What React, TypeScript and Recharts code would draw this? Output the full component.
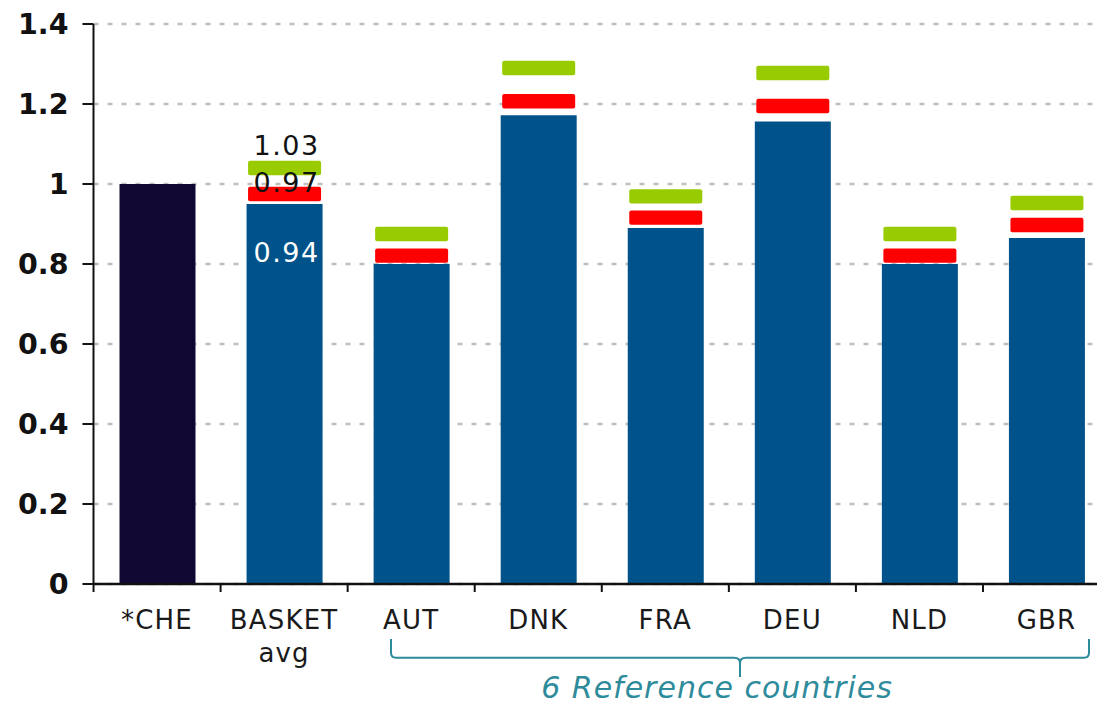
import React from "react";
import { BarChart, Bar, XAxis, YAxis, CartesianGrid, Cell, LabelList } from "recharts";

const categories = ["*CHE", "BASKET\navg", "AUT", "DNK", "FRA", "DEU", "NLD", "GBR"];
const indexValues = [1.0, 0.95, 0.8, 1.172, 0.89, 1.156, 0.8, 0.865];
const redValues = [null, 0.975, 0.821, 1.207, 0.916, 1.195, 0.821, 0.8975];
const greenValues = [null, 1.04, 0.875, 1.29, 0.969, 1.2775, 0.875, 0.9525];
const indexLabels = [null, "0.94", null, null, null, null, null, null];
const redLabels = [null, "0.97", null, null, null, null, null, null];
const greenLabels = [null, "1.03", null, null, null, null, null, null];
const yTicks = [0, 0.2, 0.4, 0.6, 0.8, 1, 1.2, 1.4];
const annotation = "6 Reference countries";

const data = categories.map((c, i) => ({
  name: c,
  index: indexValues[i],
  red: redValues[i],
  green: greenValues[i],
  indexLabel: indexLabels[i],
  redLabel: redLabels[i],
  greenLabel: greenLabels[i],
}));

const FONT = "'DejaVu Sans', Verdana, sans-serif";
const TEAL = "#2e8b9b";

const makeMarker = (color: string) => (props: any) => {
  const { x, y, width, value } = props;
  if (value == null || isNaN(y)) return null;
  return <rect x={x + 1.5} y={y - 7.2} width={width - 3} height={14.4} rx={2} fill={color} />;
};

const XTick = (props: any) => {
  const { x, payload } = props;
  const lines = String(payload.value).split("\n");
  return (
    <g>
      <line x1={x - 63.5} x2={x - 63.5} y1={584} y2={592} stroke="#111" strokeWidth={2} />
      <text x={x} y={629} textAnchor="middle" fontSize={26} letterSpacing={1.2} fill="#1a1a1a" fontFamily={FONT}>
        {lines.map((l, i) => (
          <tspan key={i} x={x} dy={i === 0 ? 0 : 33}>
            {l}
          </tspan>
        ))}
      </text>
    </g>
  );
};

const makeLabel = (dy: number, fill: string) => (p: any) => {
  if (!p.value) return null;
  return (
    <text x={p.x + p.width / 2 + 2} y={p.y + dy} textAnchor="middle" fontSize={27} letterSpacing={1.5} fill={fill} fontFamily={FONT}>
      {p.value}
    </text>
  );
};

export default function App() {
  return (
    <div style={{ position: "absolute", left: 0, top: 0, width: 1097, height: 704, overflow: "hidden", background: "#fff" }}>
      <BarChart
        width={1110}
        height={704}
        data={data}
        margin={{ top: 24, right: 0, left: 0, bottom: 0 }}
        barGap={-76}
      >
        <CartesianGrid vertical={false} stroke="#c0c0c0" strokeWidth={2.5} strokeDasharray="5 9" />
        <XAxis
          dataKey="name"
          height={120}
          axisLine={{ stroke: "#111", strokeWidth: 2.5 }}
          tickLine={false}
          tick={<XTick />}
          interval={0}
        />
        <YAxis
          width={93.5}
          domain={[0, 1.4]}
          ticks={yTicks}
          axisLine={{ stroke: "#111", strokeWidth: 2 }}
          tickLine={{ stroke: "#111", strokeWidth: 2 }}
          tickSize={11}
          tickMargin={14}
          tick={{ fontSize: 28.5, fontWeight: "bold", fill: "#111", fontFamily: FONT }}
        />
        <Bar dataKey="index" barSize={76} isAnimationActive={false}>
          {data.map((d, i) => (
            <Cell key={i} fill={i === 0 ? "#100833" : "#00538a"} />
          ))}
          <LabelList dataKey="indexLabel" content={makeLabel(57.7, "#ffffff")} />
        </Bar>
        <Bar dataKey="red" barSize={76} isAnimationActive={false} shape={makeMarker("#ff0000")}>
          <LabelList dataKey="redLabel" content={makeLabel(-2.3, "#111")} />
        </Bar>
        <Bar dataKey="green" barSize={76} isAnimationActive={false} shape={makeMarker("#99cc00")}>
          <LabelList dataKey="greenLabel" content={makeLabel(-13, "#111")} />
        </Bar>
      </BarChart>
      <svg width={1097} height={704} style={{ position: "absolute", left: 0, top: 0, pointerEvents: "none" }}>
        <path
          d="M391 639 L391 653 Q391 657.7 396 657.7 L734 657.7 Q740 657.7 740 663 L740 677 M740 663 Q740 657.7 746 657.7 L1084 657.7 Q1089 657.7 1089 653 L1089 639"
          fill="none"
          stroke={TEAL}
          strokeWidth={2}
        />
        <text x={717} y={698} textAnchor="middle" fontSize={30} letterSpacing={1} fontStyle="italic" fill={TEAL} fontFamily={FONT}>
          {annotation}
        </text>
      </svg>
    </div>
  );
}
